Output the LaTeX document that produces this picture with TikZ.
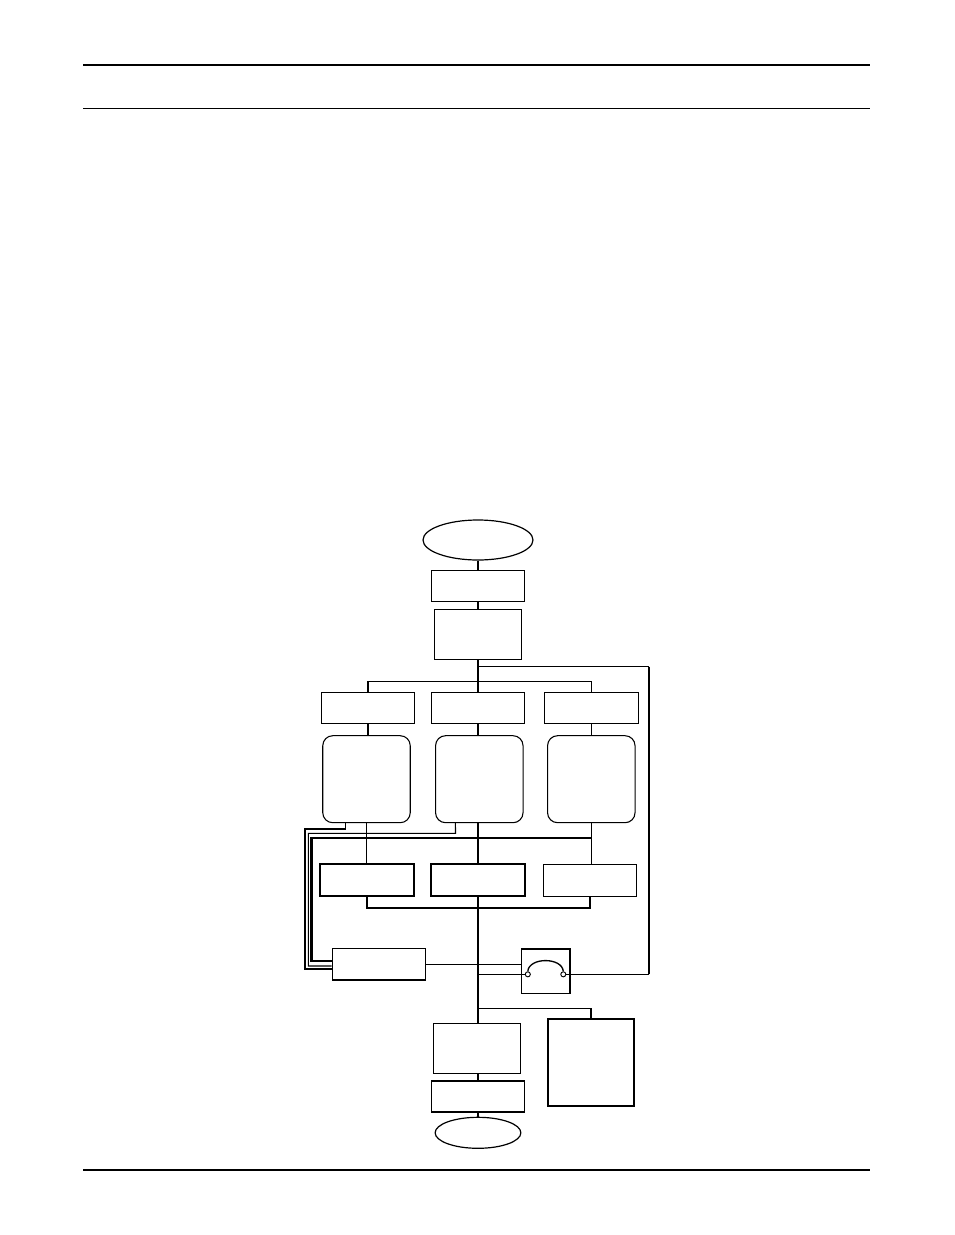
\documentclass[tikz,border=0pt]{standalone}
\usetikzlibrary{shapes.geometric}
\begin{document}
\begin{tikzpicture}[x=0.75pt,y=-0.75pt,
  wire/.style={line width=0.8pt},
  mainwire/.style={line width=1.6pt},
  midwire/.style={line width=1.1pt},
  rule/.style={line width=1pt},
  box/.style={draw, rectangle, line width=0.8pt, inner sep=0pt},
  heavybox/.style={box, line width=1.4pt},
  rbox/.style={box, rounded corners=7.5pt},
  oval/.style={draw, ellipse, line width=0.9pt, inner sep=0pt},
  port/.style={draw, circle, fill=white, line width=0.7pt, inner sep=0pt, minimum size=3.8pt}]
\useasboundingbox (0,0) rectangle (954,1235);
% page rules
\coordinate (h1a) at (83,65);    \coordinate (h1b) at (870,65);
\coordinate (h2a) at (83,108.3); \coordinate (h2b) at (870,108.3);
\coordinate (h3a) at (83,1170);  \coordinate (h3b) at (870,1170);
\draw[rule] (h1a) -- (h1b);
\draw[rule] (h2a) -- (h2b);
\draw[rule] (h3a) -- (h3b);
% nodes
\node[oval, minimum width=82.5pt, minimum height=30pt] (start) at (478,540) {};
\node[box, minimum width=70pt, minimum height=23.5pt] (b1) at (478,585.7) {};
\node[box, minimum width=65.5pt, minimum height=37.5pt] (b2) at (478,634.3) {};
\node[box, minimum width=70pt, minimum height=23.25pt] (tA) at (368,707.8) {};
\node[box, minimum width=70pt, minimum height=23.25pt] (tB) at (478,707.8) {};
\node[box, minimum width=70.5pt, minimum height=23.25pt] (tC) at (591.5,707.8) {};
\node[rbox, minimum width=65.6pt, minimum height=65.25pt] (rA) at (366.5,779.2) {};
\node[rbox, minimum width=65.6pt, minimum height=65.25pt] (rB) at (479.3,779.2) {};
\node[rbox, minimum width=65.6pt, minimum height=65.25pt] (rC) at (591.3,779.2) {};
\node[heavybox, minimum width=70.5pt, minimum height=24pt] (r2A) at (366.7,880.3) {};
\node[heavybox, minimum width=70.5pt, minimum height=24pt] (r2B) at (478.3,880.3) {};
\node[box, minimum width=70pt, minimum height=24pt] (r2C) at (589.8,880.3) {};
\node[box, line width=1.1pt, minimum width=70pt, minimum height=23.8pt] (L) at (379,964.2) {};
\node[box, line width=1pt, minimum width=36.4pt, minimum height=33.2pt] (S) at (545.8,971.2) {};
\node[port] (c1) at (527.8,974.3) {};
\node[port] (c2) at (563.3,974.3) {};
\node[box, minimum width=65.25pt, minimum height=37.5pt] (low1) at (477,1048.3) {};
\node[heavybox, minimum width=69.75pt, minimum height=23.5pt] (low2) at (478,1096.3) {};
\node[oval, minimum width=64.3pt, minimum height=23.25pt] (endo) at (478,1132.8) {};
\node[heavybox, minimum width=65pt, minimum height=65pt] (R) at (591,1062.7) {};
% switch arc
\draw[line width=1pt] (c1.north) .. controls (529,957) and (562,957) .. (c2.north);
% junction coordinates
\coordinate (j1) at (478,681.7);
\coordinate (j2) at (478,666.7);
\coordinate (k1) at (649.3,666.7);
\coordinate (k2) at (649.3,974.3);
\coordinate (j3) at (591.5,837.7);
\coordinate (j4) at (478,907.7);
\coordinate (j5) at (478,974.3);
\coordinate (j6) at (478,1008.3);
% trunk
\draw[mainwire] (start) -- (b1);
\draw[mainwire] (b1) -- (b2);
\draw[mainwire] (b2.south) -- (b2.south |- tB.north);
\draw[mainwire] (tB.south) -- (tB.south |- rB.north);
\draw[mainwire] ([xshift=-1pt]rB.south) -- ([xshift=-1pt]rB.south |- r2B.north);
\draw[mainwire] (r2B.south) -- (r2B.south |- low1.north);
\draw[mainwire] (low2.north |- low1.south) -- (low2.north);
\draw[mainwire] (low2) -- (endo);
% top bus
\draw[wire] (tA.north) |- (j1) -| (tC.north);
\draw[wire] (j2) -- (k1);
\draw[mainwire] (k1) -- (k2);
\draw[wire] (k2) -- (c2.east);
% top row to rounded
\draw[mainwire] (tA.south) -- (tA.south |- rA.north);
\draw[wire] (tC.south) -- (tC.south |- rC.north);
% rounded to row 2
\draw[wire] (rA.south) -- (rA.south |- r2A.north);
\draw[wire] (rC.south) -- (rC.south |- r2C.north);
% lower bus of row 2
\draw[mainwire] (r2A.south) |- (j4) -| ([xshift=0.2pt]r2C.south);
% left feedback lines
\draw[mainwire] (j3) -- (311.5,837.7) -- (311.5,961) -- ([yshift=2.4pt]L.west);
\draw[midwire] ([xshift=-15.6pt]rA.south) -- (345.7,829) -- (305,829) -- (305,969) -- ([yshift=-3.6pt]L.west);
\draw[wire] ([xshift=-17.9pt]rB.south) -- (455.5,833.3) -- (308.3,833.3) -- (308.3,966) -- ([yshift=-1.35pt]L.west);
% switch connections
\draw[wire] (L.east) -- (L.east -| S.west);
\draw[wire] (j5) -- (c1.west);
% branch to right box
\draw[wire] (j6) -| (R.north);
\end{tikzpicture}
\end{document}
